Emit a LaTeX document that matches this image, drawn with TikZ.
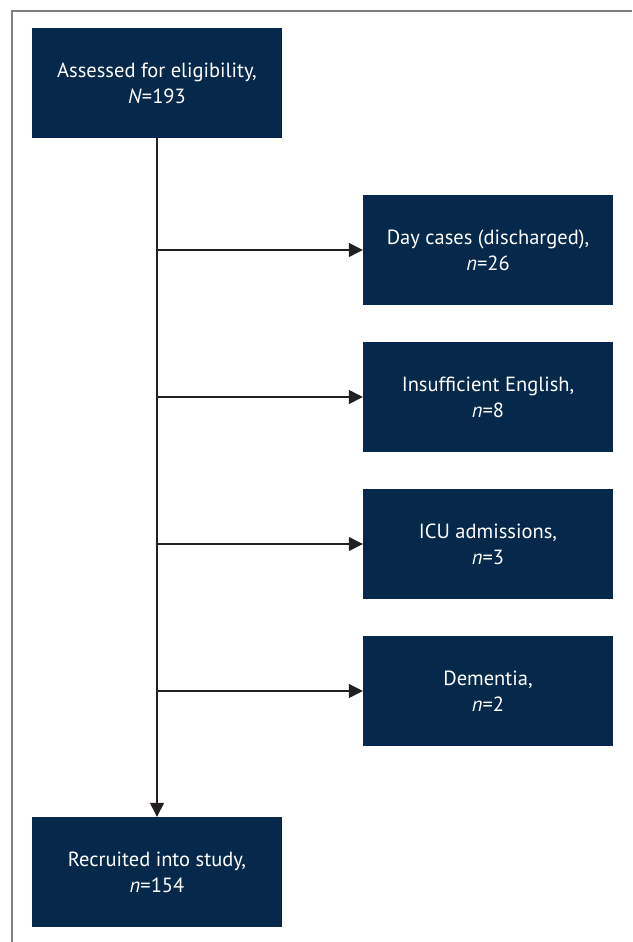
\documentclass[tikz,border=0pt]{standalone}
\usepackage{fontspec}
\setmainfont{PT Sans}
\usetikzlibrary{arrows.meta}
\definecolor{navy}{HTML}{06284A}
\definecolor{frame}{HTML}{808080}
\definecolor{arr}{HTML}{231F20}
\begin{document}
\begin{tikzpicture}[x=1pt,y=-1pt,
  box/.style={fill=navy,text=white,minimum width=250pt,minimum height=110pt,inner sep=0pt,align=center,font=\fontsize{20.5}{26}\selectfont},
  conn/.style={draw=arr,line width=1.3pt,-{Triangle[length=14pt,width=14pt]}}]
\useasboundingbox (0,0) rectangle (632,942);
\draw[frame,line width=1.2pt] (12,942) -- (12,11) -- (632,11);
\node[box] (a) at (157,83) {Assessed for eligibility,\\\textit{N}=193};
\node[box] (d) at (488,250) {Day cases (discharged),\\\textit{n}=26};
\node[box] (e) at (488,397) {Insufficient English,\\\textit{n}=8};
\node[box] (i) at (488,544) {ICU admissions,\\\textit{n}=3};
\node[box] (m) at (488,691) {Dementia,\\\textit{n}=2};
\node[box] (r) at (157,872) {Recruited into study,\\\textit{n}=154};
\coordinate (jd) at (a.south |- d.west);
\coordinate (je) at (a.south |- e.west);
\coordinate (ji) at (a.south |- i.west);
\coordinate (jm) at (a.south |- m.west);
\draw[conn] (a.south) -- (r.north);
\draw[conn] (jd) -- (d.west);
\draw[conn] (je) -- (e.west);
\draw[conn] (ji) -- (i.west);
\draw[conn] (jm) -- (m.west);
\end{tikzpicture}
\end{document}
